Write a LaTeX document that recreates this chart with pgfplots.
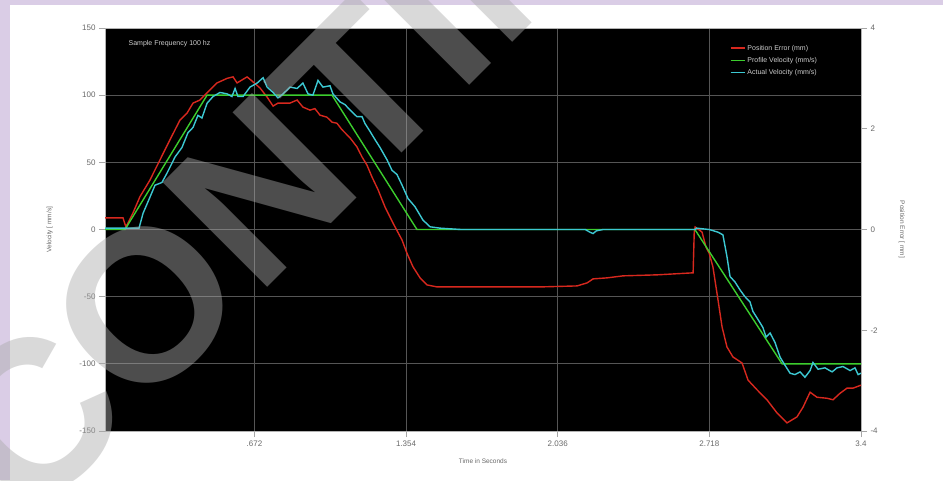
\documentclass[border=0pt]{standalone}
\usepackage{fontspec}
\setmainfont{Liberation Sans}
\usepackage{pgfplots}
\pgfplotsset{compat=1.18}
\definecolor{lav}{RGB}{218,205,230}
\definecolor{tickgray}{RGB}{105,105,105}
\definecolor{gridgray}{RGB}{85,85,85}
\definecolor{redc}{RGB}{215,40,30}
\definecolor{greenc}{RGB}{60,205,45}
\definecolor{cyanc}{RGB}{60,200,210}
\definecolor{wmgray}{RGB}{171,171,171}
\definecolor{legtext}{RGB}{205,205,205}
\pgfplotsset{
  base/.style={
    at={(105pt,49pt)}, anchor=south west, scale only axis,
    width=756pt, height=403pt, xmin=0, xmax=3.4,
    tick label style={font=\fontsize{8}{9}\selectfont, text=tickgray},
    axis line style={draw=gray!60, line width=0.8pt},
    tick style={draw=gray!70, line width=0.7pt},
    tick align=outside, major tick length=6pt,
    /pgf/number format/assume math mode=true,
  }
}
\begin{document}
\begin{tikzpicture}
\fill[lav] (0pt,0pt) rectangle (943pt,480pt);
\fill[white] (10pt,0pt) rectangle (943pt,475pt);
\useasboundingbox (0pt,0pt) rectangle (943pt,480pt);
% left axis: background, grid, velocity scale
\begin{axis}[base,
  ymin=-150, ymax=150, ytick={-150,-100,-50,0,50,100,150},
  xtick={0.672,1.354,2.036,2.718,3.4},
  xticklabels={.672,1.354,2.036,2.718,3.4},
  xtick pos=bottom, ytick pos=left,
  grid=major, grid style={draw=gridgray, line width=0.8pt},
  axis background/.style={fill=black},
  xlabel={Time in Seconds}, ylabel={Velocity [ mm/s]},
  every axis x label/.style={at={(axis description cs:0.5,-0.074)}, anchor=center, font=\fontsize{6.5}{7}\selectfont, text=tickgray},
  every axis y label/.style={at={(axis description cs:-0.073,0.5)}, anchor=center, rotate=90, font=\fontsize{6.5}{7}\selectfont, text=tickgray},
]
\end{axis}
% right axis: position error
\begin{axis}[base,
  ymin=-4, ymax=4, ytick={-4,-2,0,2,4},
  axis x line=none, axis y line*=right,
  ylabel={Position Error [ mm]},
  every axis y label/.style={at={(axis description cs:1.054,0.5)}, anchor=center, rotate=-90, font=\fontsize{6.5}{7}\selectfont, text=tickgray},
]
\addplot[redc, line width=1.4pt] table {
0.000 0.23
0.081 0.23
0.094 0.05
0.126 0.33
0.157 0.65
0.202 0.98
0.247 1.38
0.292 1.78
0.337 2.17
0.369 2.31
0.396 2.51
0.427 2.57
0.472 2.77
0.504 2.91
0.549 3.00
0.576 3.03
0.594 2.91
0.639 3.03
0.666 2.93
0.697 2.81
0.729 2.63
0.756 2.45
0.778 2.51
0.801 2.51
0.832 2.51
0.864 2.57
0.890 2.43
0.922 2.37
0.944 2.40
0.967 2.27
0.998 2.23
1.021 2.13
1.043 2.11
1.066 1.98
1.102 1.82
1.133 1.64
1.156 1.44
1.178 1.28
1.201 1.04
1.228 0.79
1.259 0.45
1.295 0.13
1.336 -0.21
1.358 -0.47
1.385 -0.74
1.417 -0.96
1.448 -1.10
1.493 -1.14
1.552 -1.14
1.956 -1.14
2.123 -1.12
2.168 -1.06
2.195 -0.98
2.258 -0.96
2.330 -0.92
2.483 -0.90
2.645 -0.86
2.650 -0.05
2.654 0.05
2.685 -0.05
2.703 -0.35
2.717 -0.47
2.734 -0.74
2.757 -1.40
2.775 -1.93
2.797 -2.33
2.824 -2.53
2.865 -2.65
2.892 -2.99
2.932 -3.18
2.977 -3.38
3.022 -3.64
3.067 -3.84
3.112 -3.72
3.139 -3.53
3.171 -3.23
3.202 -3.33
3.247 -3.35
3.274 -3.38
3.306 -3.25
3.337 -3.15
3.364 -3.15
3.400 -3.09
};
\end{axis}
% velocity curves and legend
\begin{axis}[base, hide axis,
  ymin=-150, ymax=150,
  legend style={at={(axis description cs:0.826,0.963)}, anchor=north west,
    draw=none, fill=none, font=\fontsize{7}{8}\selectfont, text=legtext,
    row sep=1.5pt, inner sep=0pt},
  legend cell align=left,
  legend image code/.code={\draw[#1] (0pt,0pt) -- (14pt,0pt);},
]
\addlegendimage{redc, line width=1.8pt}
\addlegendentry{Position Error (mm)}
\addlegendimage{greenc, line width=1.8pt}
\addlegendentry{Profile Velocity (mm/s)}
\addlegendimage{cyanc, line width=1.8pt}
\addlegendentry{Actual Velocity (mm/s)}
\addplot[greenc, line width=1.4pt, forget plot] table {
0.000 0
0.090 0
0.459 100
1.021 100
1.403 0
2.653 0
3.045 -100
3.400 -100
};
\addplot[cyanc, line width=1.4pt, forget plot] table {
0.000 1
0.153 1
0.171 12
0.202 24
0.225 33
0.256 35
0.279 42
0.315 54
0.346 61
0.373 72
0.396 76
0.418 85
0.436 83
0.459 94
0.486 99
0.517 102
0.549 101
0.571 99
0.585 105
0.598 99
0.621 99
0.652 106
0.684 109
0.711 113
0.729 106
0.756 102
0.778 98
0.801 101
0.832 106
0.864 105
0.890 109
0.913 101
0.935 100
0.958 111
0.980 106
1.012 107
1.025 101
1.057 95
1.079 93
1.102 89
1.133 84
1.156 84
1.169 79
1.192 73
1.214 67
1.237 61
1.268 52
1.291 44
1.313 41
1.336 33
1.363 23
1.394 17
1.430 7
1.462 2
1.507 1
1.600 0
2.160 0
2.181 -2
2.195 -3
2.210 -1
2.240 0
2.654 0
2.660 1
2.717 0
2.757 -2
2.779 -4
2.797 -20
2.811 -35
2.833 -39
2.856 -45
2.878 -50
2.901 -54
2.914 -61
2.937 -67
2.959 -73
2.973 -80
2.991 -77
3.013 -84
3.036 -95
3.058 -101
3.081 -107
3.103 -108
3.126 -106
3.148 -110
3.171 -105
3.184 -99
3.207 -104
3.238 -103
3.270 -106
3.292 -103
3.319 -102
3.351 -105
3.373 -103
3.387 -108
3.400 -107
};
\node[anchor=west, text=legtext, font=\fontsize{7}{8}\selectfont, inner sep=0pt]
  at (axis description cs:0.031,0.962) {Sample Frequency 100 hz};
\end{axis}
% watermark
\begin{scope}
\clip (0pt,0pt) rectangle (943pt,480pt);
\node[rotate=45, anchor=base west, inner sep=0pt, text=wmgray, opacity=0.45,
  font=\fontsize{215}{215}\selectfont\bfseries] at (29pt,-46pt) {CONTINUED};
\end{scope}
\end{tikzpicture}
\end{document}
